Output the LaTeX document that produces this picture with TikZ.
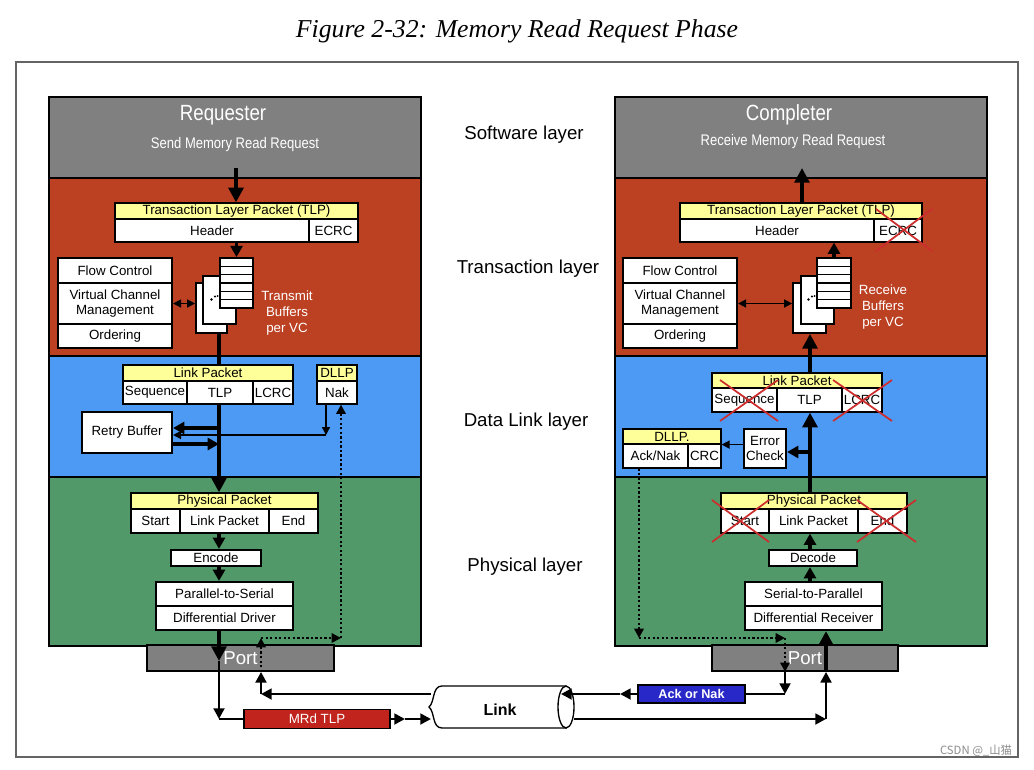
\documentclass[tikz,border=0pt]{standalone}
\usepackage{fontspec}
\setmainfont{Liberation Sans}
\newfontfamily\narrowfont[FakeStretch=0.85]{Liberation Sans}
\newfontfamily\titlefont{Liberation Serif}
\newfontfamily\cjkfont{Noto Sans CJK SC}
\usetikzlibrary{arrows.meta}
\definecolor{laygray}{RGB}{128,128,128}
\definecolor{layred}{RGB}{188,65,35}
\definecolor{layblue}{RGB}{76,154,244}
\definecolor{laygreen}{RGB}{82,153,106}
\definecolor{hdryellow}{RGB}{255,255,153}
\definecolor{mrdred}{RGB}{192,36,28}
\definecolor{ackblue}{RGB}{40,40,200}
\definecolor{xred}{RGB}{205,45,45}
\definecolor{framegray}{RGB}{100,100,100}
\newcommand\mybox[7]{%
  \node[#6, minimum width={(#4-#2)*0.75pt}, minimum height={(#5-#3)*0.75pt}] (#1) at ({(#2+#4)/2},{(#3+#5)/2}) {#7};}
\tikzset{
  layer/.style={draw, line width=1.7pt, inner sep=0pt},
  cell/.style={draw, fill=white, line width=0.9pt, inner sep=0pt, align=center, font=\fontsize{10}{11.5}\selectfont},
  hdr/.style={cell, fill=hdryellow},
  tbox/.style={cell, line width=1.6pt},
  bufbox/.style={draw, fill=white, line width=1.3pt, inner sep=0pt},
  lbl/.style={font=\fontsize{14}{16}\selectfont},
  bigarr/.style={-{Triangle[length=11pt,width=11pt]}, line width=3.4pt},
  medarr/.style={-{Triangle[length=8.5pt,width=9pt]}, line width=2.6pt},
  linkarr/.style={-{Triangle[length=8pt,width=8pt]}, line width=2.2pt},
  smarr/.style={-{Triangle[length=6pt,width=6pt]}, line width=1.1pt},
  dblarr/.style={{Triangle[length=6pt,width=6pt]}-{Triangle[length=6pt,width=6pt]}, line width=1.1pt},
  dotarr/.style={-{Triangle[length=7pt,width=7pt]}, line width=2.2pt, dash pattern=on 1.7pt off 1.7pt},
  xcross/.style={draw=xred, line width=1.3pt},
  wtext/.style={text=white, align=center, font=\fontsize{10}{12}\selectfont},
}
\begin{document}
\begin{tikzpicture}[x=0.75pt,y=-0.75pt]
\useasboundingbox (0,0) rectangle (1034,770);
\fill[white] (0,0) rectangle (1034,770);
\node[font=\titlefont\itshape\fontsize{19.3}{23}\selectfont] (title) at (517,31) {Figure 2-32: Memory Read Request Phase};
\mybox{frame}{16}{62}{1018}{757}{draw=framegray, line width=1.1pt}{}

% ---------------- layers
\mybox{Lsw}{49}{97}{421}{178}{layer, fill=laygray}{}
\mybox{Ltl}{49}{178}{421}{356}{layer, fill=layred}{}
\mybox{Ldl}{49}{356}{421}{477}{layer, fill=layblue}{}
\mybox{Lph}{49}{477}{421}{646}{layer, fill=laygreen}{}
\mybox{Rsw}{615}{97}{987}{178}{layer, fill=laygray}{}
\mybox{Rtl}{615}{178}{987}{356}{layer, fill=layred}{}
\mybox{Rdl}{615}{356}{987}{477}{layer, fill=layblue}{}
\mybox{Rph}{615}{477}{987}{646}{layer, fill=laygreen}{}

\node[text=white, font=\narrowfont\fontsize{16.5}{18}\selectfont] (req) at (223,115) {Requester};
\node[text=white, font=\narrowfont\fontsize{11.5}{13}\selectfont] (reqs) at (235,145) {Send Memory Read Request};
\node[text=white, font=\narrowfont\fontsize{16.5}{18}\selectfont] (cpl) at (789,115) {Completer};
\node[text=white, font=\narrowfont\fontsize{11.5}{13}\selectfont] (cpls) at (793,142) {Receive Memory Read Request};

\node[lbl] (swl) at (524,135) {Software layer};
\node[lbl] (tll) at (528,269) {Transaction layer};
\node[lbl] (dll) at (526,422) {Data Link layer};
\node[lbl] (phl) at (525,567) {Physical layer};

\coordinate (lx) at (219,0);
\coordinate (rx) at (810,0);

% ---------------- left transaction layer
\mybox{LtlpH}{115}{203}{358}{219}{hdr}{Transaction Layer Packet (TLP)}
\mybox{LtlpHd}{115}{219}{309}{242}{cell}{Header}
\mybox{LtlpE}{309}{219}{358}{242}{cell}{ECRC}
\mybox{LFC}{58}{258}{172}{283}{tbox}{Flow Control}
\mybox{LVC}{58}{283}{172}{324}{tbox}{Virtual Channel\\Management}
\mybox{LOr}{58}{324}{172}{348}{tbox}{Ordering}
\mybox{Lbk}{196}{283}{227}{333}{bufbox}{}
\mybox{Lmid}{203}{276}{236}{324}{bufbox}{}
\mybox{Lfr}{220}{258}{253}{308}{bufbox}{}
\foreach \k in {1,...,5} \draw[line width=0.9pt] (220,{258+\k*8.33}) -- (253,{258+\k*8.33});
\fill (211.5,299.5) circle (1.4) (215,296.5) circle (1.2) (217.5,296) circle (1.0);
\node[wtext] (ltb) at (287,313) {Transmit\\Buffers\\per VC};

\coordinate (Lsw1) at (236,168);
\draw[bigarr] (Lsw1) -- (LtlpH.north -| Lsw1);
\draw[medarr] (LtlpHd.south -| Lfr.north) -- (Lfr.north);
\draw[dblarr] (LVC.east) -- (Lbk.west |- LVC.east);

% ---------------- left data link layer
\mybox{LlpH}{123}{365}{293}{381}{hdr}{Link Packet}
\mybox{LlpS}{123}{381}{187}{404}{cell}{Sequence}
\mybox{LlpT}{187}{381}{253}{404}{cell}{TLP}
\mybox{LlpL}{253}{381}{293}{404}{cell}{LCRC}
\mybox{LdllpH}{317}{365}{357}{381}{hdr}{DLLP}
\mybox{LdllpN}{317}{381}{357}{404}{cell}{Nak}
\mybox{Lretry}{82}{412}{172}{453}{tbox}{Retry Buffer}

\draw[line width=3.4pt] (Lbk.south -| lx) -- (LlpH.north -| lx);
\coordinate (Lr1) at (219,428);
\coordinate (Lr3) at (219,444);
\coordinate (Lnk) at (326,435);
\draw[medarr] (Lr1) -- (Lretry.east |- Lr1);
\draw[smarr] (LdllpN.south -| Lnk) -- (Lnk);
\draw[smarr] (Lnk) -- (Lretry.east |- Lnk);
\draw[medarr] (Lretry.east |- Lr3) -- (Lr3);

% ---------------- left physical layer
\mybox{LppH}{131}{493}{318}{509}{hdr}{Physical Packet}
\mybox{LppS}{131}{509}{180}{533}{cell}{Start}
\mybox{LppL}{180}{509}{269}{533}{cell}{Link Packet}
\mybox{LppE}{269}{509}{318}{533}{cell}{End}
\mybox{Lenc}{171}{550}{261}{566}{tbox}{Encode}
\mybox{Lps}{156}{582}{293}{606}{tbox}{Parallel-to-Serial}
\mybox{Ldd}{156}{606}{293}{630}{tbox}{Differential Driver}
\mybox{Lport}{147}{645}{334}{671}{draw, line width=1.3pt, fill=laygray, text=white, font=\fontsize{14}{16}\selectfont}{Port}

\draw[bigarr] (LlpT.south -| lx) -- (LppH.north -| lx);
\draw[medarr] (LppL.south -| lx) -- (Lenc.north -| lx);
\draw[medarr] (Lenc.south -| lx) -- (Lps.north -| lx);

% ---------------- right transaction layer
\mybox{RtlpH}{680}{203}{922}{219}{hdr}{Transaction Layer Packet (TLP)}
\mybox{RtlpHd}{680}{219}{874}{242}{cell}{Header}
\mybox{RtlpE}{874}{219}{922}{242}{cell}{ECRC}
\mybox{RFC}{623}{258}{737}{283}{tbox}{Flow Control}
\mybox{RVC}{623}{283}{737}{324}{tbox}{Virtual Channel\\Management}
\mybox{ROr}{623}{324}{737}{348}{tbox}{Ordering}
\mybox{Rbk}{793}{283}{826}{333}{bufbox}{}
\mybox{Rmid}{801}{276}{834}{324}{bufbox}{}
\mybox{Rfr}{817}{258}{851}{308}{bufbox}{}
\foreach \k in {1,...,5} \draw[line width=0.9pt] (817,{258+\k*8.33}) -- (851,{258+\k*8.33});
\fill (808.5,299.5) circle (1.4) (812,296.5) circle (1.2) (814.5,296) circle (1.0);
\node[wtext] (rrb) at (883,307) {Receive\\Buffers\\per VC};
\draw[xcross] (876,209) -- (932,251) (876,251) -- (932,209);

\coordinate (Rsw1) at (802,168);
\draw[bigarr] (RtlpH.north -| Rsw1) -- (Rsw1);
\draw[medarr] (Rfr.north) -- (RtlpHd.south -| Rfr.north);
\draw[dblarr] (RVC.east) -- (Rbk.west |- RVC.east);

% ---------------- right data link layer
\mybox{RlpH}{712}{373}{882}{388}{hdr}{Link Packet}
\mybox{RlpS}{712}{388}{777}{412}{cell}{Sequence}
\mybox{RlpT}{777}{388}{842}{412}{cell}{TLP}
\mybox{RlpL}{842}{388}{882}{412}{cell}{LCRC}
\mybox{RdllpH}{623}{429}{721}{444}{hdr}{DLLP.}
\mybox{RdllpA}{623}{444}{688}{468}{cell}{Ack/Nak}
\mybox{RdllpC}{688}{444}{721}{468}{cell}{CRC}
\mybox{Rerr}{744}{429}{786}{468}{tbox}{Error\\Check}
\draw[xcross] (720,380) -- (778,421) (720,421) -- (778,380);
\draw[xcross] (833,380) -- (892,421) (833,421) -- (892,380);

\draw[bigarr] (RlpH.north -| rx) -- (Rbk.south -| rx);
\coordinate (Re1) at (810,452);
\draw[medarr] (Re1) -- (Rerr.east |- Re1);
\draw[smarr] (Rerr.west |- RdllpH.south) -- (RdllpC.east |- RdllpH.south);

% ---------------- right physical layer
\mybox{RppH}{721}{493}{907}{509}{hdr}{Physical Packet}
\mybox{RppS}{721}{509}{769}{533}{cell}{Start}
\mybox{RppL}{769}{509}{858}{533}{cell}{Link Packet}
\mybox{RppE}{858}{509}{907}{533}{cell}{End}
\mybox{Rdec}{769}{550}{857}{566}{tbox}{Decode}
\mybox{Rsp}{745}{582}{882}{606}{tbox}{Serial-to-Parallel}
\mybox{Rdr}{745}{606}{882}{630}{tbox}{Differential Receiver}
\mybox{Rport}{712}{645}{898}{671}{draw, line width=1.3pt, fill=laygray, text=white, font=\fontsize{14}{16}\selectfont}{Port}
\draw[xcross] (712,500) -- (769,542) (712,542) -- (769,500);
\draw[xcross] (857,500) -- (916,542) (857,542) -- (916,500);

\draw[bigarr] (RppH.north -| rx) -- (RlpT.south -| rx);
\draw[medarr] (Rdec.north -| rx) -- (RppL.south -| rx);
\draw[medarr] (Rsp.north -| rx) -- (Rdec.south -| rx);

% ---------------- link
\draw[line width=1pt, fill=white] (442,686) -- (566,686) -- (566,728) -- (442,728)
  .. controls (432,728) and (435,712) .. (429,707)
  .. controls (435,702) and (432,686) .. (442,686) -- cycle;
\draw[line width=1pt, fill=white] (566,707) ellipse [x radius=8, y radius=21];
\node[font=\bfseries\fontsize{12}{14}\selectfont] (Link) at (500,710) {Link};
\coordinate (LinkW1) at (431,694);
\coordinate (LinkW2) at (431,719);
\coordinate (LinkE1) at (561,694);
\coordinate (LinkE2) at (574,719);

\mybox{MRd}{244}{710}{390}{728}{draw, line width=1.2pt, fill=mrdred, text=white, font=\fontsize{10}{12}\selectfont}{MRd TLP}
\mybox{Ack}{638}{686}{745}{702}{draw, line width=1.2pt, fill=ackblue, text=white, font=\bfseries\fontsize{9.5}{11}\selectfont}{Ack or Nak}

% left port connections
\coordinate (LportIn) at (219,661);
\coordinate (Lcorner) at (219,719);
\draw[bigarr] (Ldd.south -| lx) -- (LportIn);
\draw[linkarr] (LportIn) -- (Lcorner);
\draw[line width=2.2pt] (Lcorner) -- (MRd.west);
\coordinate (Lmid2) at (405,719);
\draw[linkarr] (MRd.east) -- (Lmid2);
\draw[linkarr] (Lmid2) -- (LinkW2);

\coordinate (Lc2) at (261,694);
\coordinate (Ld1) at (261,638);
\coordinate (Ld2) at (341,638);
\draw[linkarr] (LinkW1) -- (Lc2);
\draw[linkarr] (Lc2) -- (Lport.south -| Lc2);
\draw[dotarr] (Lport.south -| Lc2) -- (Ld1);
\draw[dotarr] (Ld1) -- (Ld2);
\draw[dotarr] (Ld2) -- (LdllpN.south -| Ld2);

% right port connections
\coordinate (Rd1) at (639,638);
\coordinate (Rd2) at (785,638);
\coordinate (Rc1) at (785,694);
\coordinate (Ra1) at (620,694);
\coordinate (Rc2) at (826,719);
\draw[dotarr] (RdllpA.south -| Rd1) -- (Rd1);
\draw[dotarr] (Rd1) -- (Rd2);
\draw[dotarr] (Rd2) -- (Rport.south -| Rd2);
\draw[linkarr] (Rport.south -| Rd2) -- (Rc1);
\draw[line width=2.2pt] (Rc1) -- (Ack.east);
\draw[linkarr] (Ack.west) -- (Ra1);
\draw[linkarr] (Ra1) -- (LinkE1);
\draw[linkarr] (LinkE2) -- (Rc2);
\draw[linkarr] (Rc2) -- (Rport.south -| Rc2);
\draw[bigarr] (Rport.south -| Rc2) -- (Rdr.south -| Rc2);

\node[text=black!45, font=\cjkfont\fontsize{8.5}{9}\selectfont] (wm) at (976,751) {CSDN @\_山猫};
\end{tikzpicture}
\end{document}
